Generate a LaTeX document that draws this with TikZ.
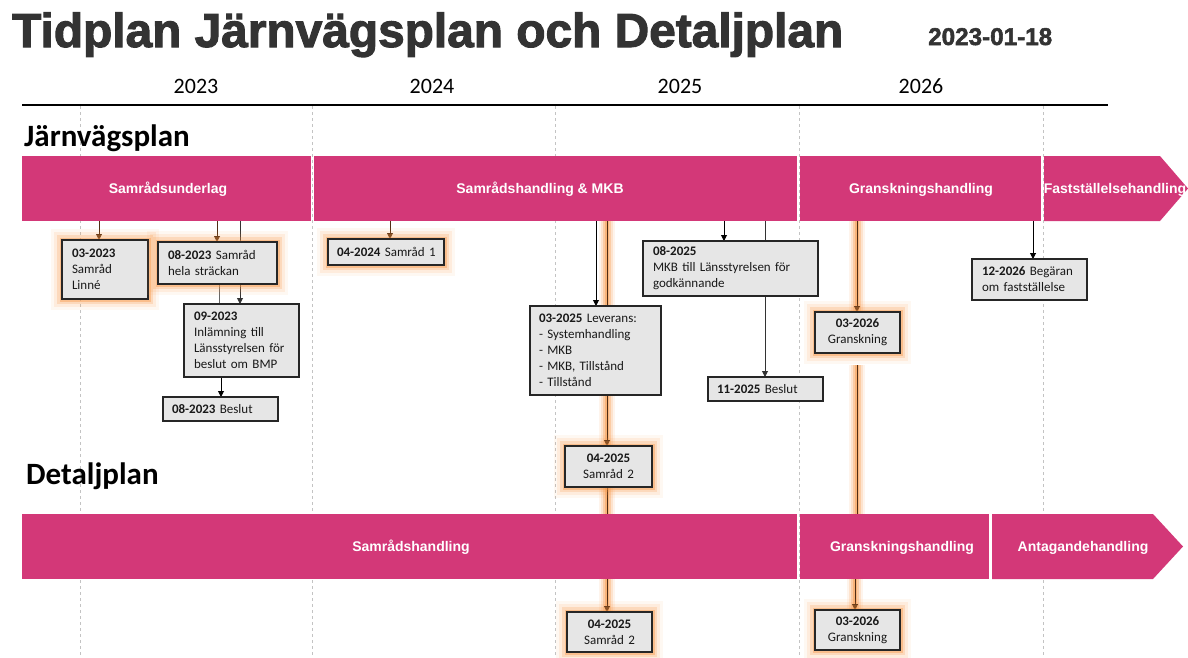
\documentclass[tikz,border=0pt]{standalone}
\usepackage{fontspec}
\setmainfont{Carlito}
\newfontfamily\arialf{Liberation Sans}
\newfontfamily\heavyf[BoldFeatures={FakeBold=2.2}]{Liberation Sans}
\usetikzlibrary{arrows.meta,calc}
\pgfdeclarelayer{back}
\pgfdeclarelayer{mid}
\pgfsetlayers{back,mid,main}
\definecolor{bandc}{RGB}{211,56,120}
\definecolor{boxg}{RGB}{230,230,230}
\definecolor{glowc}{RGB}{247,150,70}
\definecolor{titlec}{RGB}{51,51,51}
\definecolor{arrbrown}{RGB}{80,45,20}
\definecolor{gridc}{RGB}{195,195,195}
\tikzset{
 band/.style={fill=bandc, draw=none, inner sep=0pt, outer sep=0pt, anchor=north west, minimum height=65pt},
 bandlbl/.style={text=white, font=\arialf\bfseries\fontsize{14}{16}\selectfont, inner sep=0pt, anchor=base},
 dbox/.style={draw=black!85, line width=1.3pt, fill=boxg, anchor=north west, inner xsep=10pt, inner ysep=0pt, outer sep=0pt, align=left, font=\fontsize{13}{16}\selectfont, text=black!90},
 cbox/.style={dbox, align=center},
 glow/.style={preaction={draw=glowc, line width=22pt, opacity=0.07},
              preaction={draw=glowc, line width=16pt, opacity=0.12},
              preaction={draw=glowc, line width=10pt, opacity=0.22},
              preaction={draw=glowc, line width=5pt, opacity=0.4}},
 glowline/.style={draw=glowc, line width=#1},
 arr/.style={-{Triangle[length=6pt,width=6pt]}, line width=0.9pt},
 barr/.style={arr, draw=arrbrown, color=arrbrown},
 gridline/.style={draw=gridc, line width=0.8pt, dash pattern=on 3pt off 3pt},
 yearlbl/.style={anchor=base, inner sep=0pt, font=\fontsize{22}{22}\selectfont},
 heading/.style={anchor=base west, inner sep=0pt, font=\bfseries\fontsize{31}{31}\selectfont}
}
\begin{document}
\begin{tikzpicture}[x=1pt,y=-1pt]
\useasboundingbox (0,0) rectangle (1188,657);
% title
\node[anchor=base west, inner sep=0pt, text=titlec] (title) at (12,47)
  {\resizebox{831pt}{!}{\heavyf\bfseries\fontsize{46}{46}\selectfont Tidplan Järnvägsplan och Detaljplan}};
\node[anchor=base west, inner sep=0pt, text=titlec] (date) at (928,45) {\resizebox{124pt}{!}{\heavyf\bfseries\fontsize{23.5}{24}\selectfont 2023-01-18}};
% years
\node[yearlbl] (y23) at (196,93) {2023};
\node[yearlbl] (y24) at (432,93) {2024};
\node[yearlbl] (y25) at (680,93) {2025};
\node[yearlbl] (y26) at (921,93) {2026};
\coordinate (axl) at (22,105);
\coordinate (axr) at (1108,105);
\draw[line width=1.4pt] (axl) -- (axr);
% grid
\begin{pgfonlayer}{back}
\foreach \gx in {80,312,555,799,1043}{
  \draw[gridline] (\gx,106) -- (\gx,657);
}
\end{pgfonlayer}
% headings
\node[heading] (jvp) at (24,146) {Järnvägsplan};
\node[heading] (dp) at (26,484) {Detaljplan};
% top bands
\node[band, minimum width=289pt] (s1) at (22,156) {};
\node[band, minimum width=483pt] (s2) at (314,156) {};
\node[band, minimum width=241pt] (s3) at (800,156) {};
\fill[bandc] (1044,156) -- (1160,156) -- (1188,188.5) -- (1160,221) -- (1044,221) -- cycle;
\node[bandlbl] (l1) at (168,193.5) {Samrådsunderlag};
\node[bandlbl] (l2) at (540,193.5) {Samrådshandling \& MKB};
\node[bandlbl] (l3) at (921,193.5) {Granskningshandling};
\node[bandlbl] (l4) at (1115,193.5) {Fastställelsehandling};
% bottom bands
\node[band, minimum width=775pt] (d1) at (22,514) {};
\node[band, minimum width=189pt] (d2) at (800,514) {};
\fill[bandc] (992,514) -- (1153,514) -- (1183,546.5) -- (1153,579) -- (992,579) -- cycle;
\node[bandlbl] (m1) at (411,551.5) {Samrådshandling};
\node[bandlbl] (m2) at (902,551.5) {Granskningshandling};
\node[bandlbl] (m3) at (1083,551.5) {Antagandehandling};
% boxes
\node[dbox, glow, text width=66pt, minimum height=59pt] (b1) at (62,240) {\textbf{03-2023}\\Samråd\\Linné};
\node[dbox, glow, text width=99pt, minimum height=42pt] (b2) at (158,242) {\textbf{08-2023} Samråd\\hela sträckan};
\node[dbox, text width=95pt, minimum height=73pt] (b3) at (184,304) {\textbf{09-2023}\\Inlämning till\\Länsstyrelsen för\\beslut om BMP};
\node[dbox, text width=97pt, minimum height=24pt, inner xsep=9pt] (b4) at (163,397) {\textbf{08-2023} Beslut};
\node[dbox, glow, text width=102pt, minimum height=26pt, inner xsep=7pt] (b5) at (328,239) {\hspace*{2pt}\textbf{04-2024} Samråd 1};
\node[dbox, text width=113pt, minimum height=89pt, inner xsep=9pt] (b6) at (530,306) {\textbf{03-2025} Leverans:\\- Systemhandling\\- MKB\\- MKB, Tillstånd\\- Tillstånd};
\node[cbox, glow, text width=67pt, minimum height=41pt] (b7) at (565,446) {\textbf{04-2025}\\Samråd 2};
\node[cbox, glow, text width=65pt, minimum height=40pt] (b8) at (567,612) {\textbf{04-2025}\\Samråd 2};
\node[dbox, text width=155pt, minimum height=55pt] (b9) at (643,241) {\textbf{08-2025}\\MKB till Länsstyrelsen för\\godkännande};
\node[dbox, text width=97pt, minimum height=24pt, inner xsep=9pt] (b10) at (708,377) {\textbf{11-2025} Beslut};
\node[cbox, glow, text width=65pt, minimum height=41pt] (b11) at (815,312) {\textbf{03-2026}\\Granskning};
\node[cbox, glow, text width=65pt, minimum height=40pt] (b12) at (815,610) {\textbf{03-2026}\\Granskning};
\node[dbox, text width=95pt, minimum height=41pt] (b13) at (972,259) {\textbf{12-2026} Begäran\\om fastställelse};
% connectors
\begin{pgfonlayer}{mid}
% glow lines
\foreach \w/\o in {16/0.1,12/0.18,8/0.3,4/0.45}{
  \draw[glowline=\w pt, opacity=\o] (s2.south -| 607,0) -- (b7.north -| 607,0);
  \draw[glowline=\w pt, opacity=\o] (b7.south -| 607,0) -- (d1.north -| 607,0);
  \draw[glowline=\w pt, opacity=\o] (d1.south -| 607,0) -- (b8.north -| 607,0);
  \draw[glowline=\w pt, opacity=\o] (s3.south -| 857,0) -- (b11.north -| 857,0);
  \draw[glowline=\w pt, opacity=\o] ($(b11.south -| 857,0)+(0,12)$) -- (d2.north -| 857,0);
  \draw[glowline=\w pt, opacity=\o] (d2.south -| 855,0) -- (b12.north -| 855,0);
}
\draw[barr] (s1.south -| 99,0) -- (b1.north -| 99,0);
\draw[barr] (s1.south -| 217,0) -- (b2.north -| 217,0);
\draw[arr, black!80] (s1.south -| 240,0) -- (b3.north -| 240,0);
\draw[line width=0.9pt, black!60] (b2.south -| 219,0) -- (b3.north -| 219,0);
\draw[arr, black] (b3.south -| 221,0) -- (b4.north -| 221,0);
\draw[barr] (s2.south -| 390,0) -- (b5.north -| 390,0);
\draw[arr, black] (s2.south -| 596,0) -- (b6.north -| 596,0);
\draw[barr] (s2.south -| 607,0) -- (b7.north -| 607,0);
\draw[line width=0.9pt, arrbrown] (b7.south -| 607,0) -- (d1.north -| 607,0);
\draw[barr] (d1.south -| 607,0) -- (b8.north -| 607,0);
\draw[arr, black] (s2.south -| 724,0) -- (b9.north -| 724,0);
\draw[arr, black!80] (s2.south -| 765,0) -- (b10.north -| 765,0);
\draw[barr] (s3.south -| 857,0) -- (b11.north -| 857,0);
\draw[line width=0.9pt, arrbrown] ($(b11.south -| 857,0)+(0,12)$) -- (d2.north -| 857,0);
\draw[barr] (d2.south -| 855,0) -- (b12.north -| 855,0);
\draw[arr, black] (s3.south -| 1033,0) -- (b13.north -| 1033,0);
\end{pgfonlayer}
\end{tikzpicture}
\end{document}
